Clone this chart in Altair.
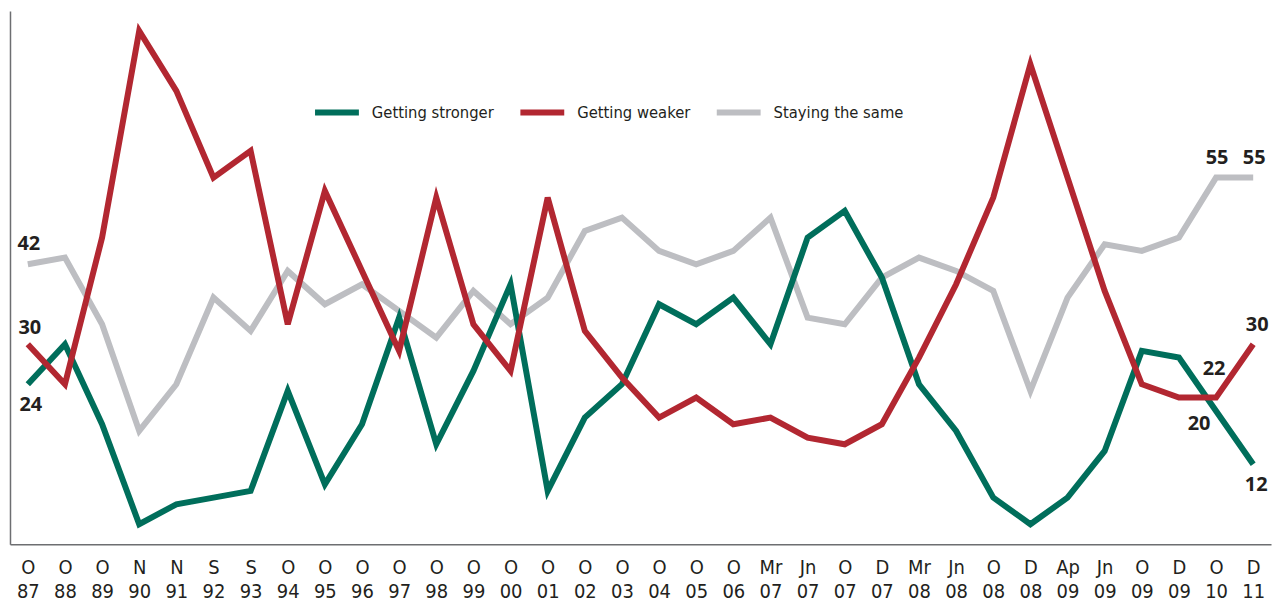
import altair as alt
import pandas as pd

categories = ["O 87", "O 88", "O 89", "N 90", "N 91", "S 92", "S 93", "O 94", "O 95", "O 96",
              "O 97", "O 98", "O 99", "O 00", "O 01", "O 02", "O 03", "O 04", "O 05", "O 06",
              "Mr 07", "Jn 07", "O 07", "D 07", "Mr 08", "Jn 08", "O 08", "D 08", "Ap 09", "Jn 09",
              "O 09", "D 09", "O 10", "D 11"]
stronger = [24, 30, 18, 3, 6, 7, 8, 23, 9, 18, 34, 15, 26, 39, 8, 19, 24, 36, 33, 37,
            30, 46, 50, 40, 24, 17, 7, 3, 7, 14, 29, 28, 20, 12]
weaker = [30, 24, 46, 77, 68, 55, 59, 33, 53, 41, 29, 52, 33, 26, 52, 32, 25, 19, 22, 18,
          19, 16, 15, 18, 28, 39, 52, 72, 55, 38, 24, 22, 22, 30]
same = [42, 43, 33, 17, 24, 37, 32, 41, 36, 39, 35, 31, 38, 33, 37, 47, 49, 44, 42, 44,
        49, 34, 33, 40, 43, 41, 38, 23, 37, 45, 44, 46, 55, 55]

series_names = ["Getting stronger", "Getting weaker", "Staying the same"]
series_colors = ["#006e5b", "#b22731", "#bdbec2"]

rows = []
for name, vals in zip(series_names, [stronger, weaker, same]):
    for i, (c, v) in enumerate(zip(categories, vals)):
        rows.append({"period": c, "value": v, "series": name, "idx": i})
df = pd.DataFrame(rows)

NARROW = "Liberation Sans Narrow, DejaVu Sans Condensed, Roboto Condensed, sans-serif"
BOLD = "Open Sans, Lato, sans-serif"

x = alt.X("period:N", sort=categories,
          scale=alt.Scale(type="point", padding=0.48),
          axis=alt.Axis(title=None, labelExpr="split(datum.label, ' ')", ticks=False,
                        domainColor="#6d6e71", domainWidth=1.5, labelFontSize=20,
                        labelFont=NARROW, labelColor="#231f20", labelPadding=13,
                        labelLineHeight=24, labelAngle=0, labelBaseline="top",
                        labelOverlap=False, labelFlush=False, grid=False))
y = alt.Y("value:Q", scale=alt.Scale(domain=[0, 80], nice=False, zero=True),
          axis=alt.Axis(title=None, labels=False, ticks=False, grid=False,
                        domainColor="#6d6e71", domainWidth=1.5))
color = alt.Color("series:N",
                  scale=alt.Scale(domain=series_names, range=series_colors),
                  legend=alt.Legend(title=None, orient="none", legendX=303, legendY=77,
                                    direction="horizontal", symbolType="stroke",
                                    symbolSize=1936, symbolStrokeWidth=6,
                                    labelFont=NARROW, labelFontSize=16.5,
                                    labelColor="#231f20", labelOffset=10,
                                    columnPadding=14, padding=0))

base = alt.Chart(df).encode(x=x, y=y, color=color)

def line(name):
    return base.transform_filter(alt.datum.series == name).mark_line(
        strokeWidth=6, strokeJoin="miter", strokeCap="butt")

def labels(cond, dx, dy):
    return alt.Chart(df).transform_filter(cond).mark_text(
        font=BOLD, fontWeight="bold", fontSize=20, color="#231f20", dx=dx, dy=dy
    ).encode(x=x, y=y, text="value:Q")

first = alt.datum.idx == 0
last = alt.datum.idx == len(categories) - 1
o10 = alt.datum.idx == len(categories) - 2

layers = [
    line("Staying the same"),
    line("Getting stronger"),
    line("Getting weaker"),
    labels((alt.datum.series == "Staying the same") & (first | last | o10), 1, -20),
    labels((alt.datum.series == "Getting weaker") & first, 2, -16),
    labels((alt.datum.series == "Getting weaker") & last, 4, -19),
    labels((alt.datum.series == "Getting weaker") & o10, -2, -29),
    labels((alt.datum.series == "Getting stronger") & (first | last), 3, 21),
    labels((alt.datum.series == "Getting stronger") & o10, -17, 13),
]

chart = alt.layer(*layers).properties(
    width=1265, height=535,
    autosize=alt.AutoSizeParams(type="none"),
    padding={"left": 2, "top": 2, "right": 5, "bottom": 60},
).configure_view(stroke=None)

chart.save("out.html", embed_options={"renderer": "svg", "actions": False})
